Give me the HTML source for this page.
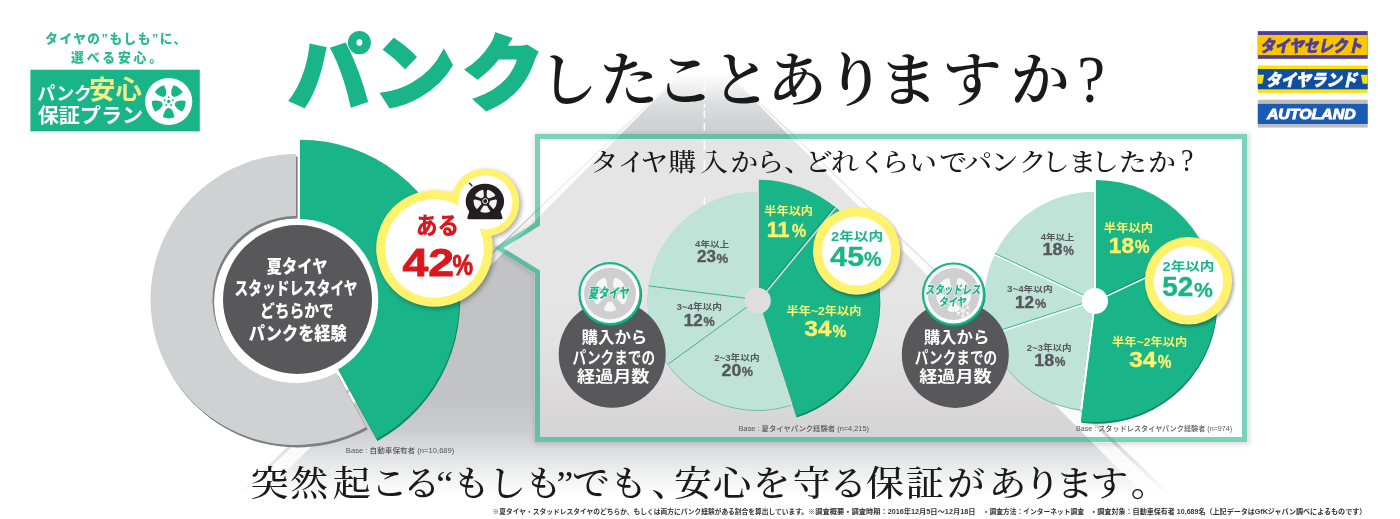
<!DOCTYPE html>
<html lang="ja"><head><meta charset="utf-8"><title>パンクしたことありますか?</title>
<style>
html,body{margin:0;padding:0;background:#fff;}
body{width:1400px;height:519px;overflow:hidden;position:relative;}
svg{display:block;position:absolute;left:0;top:0;}
text{font-family:"Liberation Sans","Noto Sans CJK JP",sans-serif;}
.sans{font-family:"Liberation Sans","Noto Sans CJK JP",sans-serif;}
.serif{font-family:"Liberation Serif","Noto Serif CJK JP","Noto Serif CJK SC",serif;}
</style></head><body>
<svg width="1400" height="519" viewBox="0 0 1400 519">
<defs>
<linearGradient id="road" x1="0" y1="0" x2="0" y2="519" gradientUnits="userSpaceOnUse"><stop offset="0.0000" stop-color="#fff" stop-opacity="0"/><stop offset="0.1407" stop-color="#fff" stop-opacity="0"/><stop offset="0.1734" stop-color="#fff" stop-opacity="0.3"/><stop offset="0.2023" stop-color="#fff" stop-opacity="0.58"/><stop offset="0.2312" stop-color="#fff" stop-opacity="0.72"/><stop offset="0.2582" stop-color="#fff" stop-opacity="0.78"/><stop offset="0.3854" stop-color="#fff" stop-opacity="0.95"/><stop offset="0.5010" stop-color="#fff" stop-opacity="1"/><stop offset="0.7669" stop-color="#fff" stop-opacity="1"/><stop offset="0.8285" stop-color="#fff" stop-opacity="0.85"/><stop offset="0.8593" stop-color="#fff" stop-opacity="0.62"/><stop offset="0.9056" stop-color="#fff" stop-opacity="0.3"/><stop offset="0.9557" stop-color="#fff" stop-opacity="0"/><stop offset="1.0000" stop-color="#fff" stop-opacity="0"/></linearGradient>
<linearGradient id="roadi" x1="0" y1="0" x2="0" y2="519" gradientUnits="userSpaceOnUse"><stop offset="0.0000" stop-color="#fff" stop-opacity="0.43"/><stop offset="0.5780" stop-color="#fff" stop-opacity="0.43"/><stop offset="0.6647" stop-color="#fff" stop-opacity="0.48"/><stop offset="0.7707" stop-color="#fff" stop-opacity="0.62"/><stop offset="0.8478" stop-color="#fff" stop-opacity="0.72"/><stop offset="1.0000" stop-color="#fff" stop-opacity="0.72"/></linearGradient>
<filter id="sh" x="-20%" y="-20%" width="140%" height="140%"><feGaussianBlur stdDeviation="2.5"/></filter>
<filter id="sh2" x="-20%" y="-20%" width="140%" height="140%"><feGaussianBlur stdDeviation="1.5"/></filter>
</defs>
<rect width="1400" height="519" fill="#fff"/>

<mask id="rm" maskUnits="userSpaceOnUse" x="0" y="0" width="1400" height="519"><rect x="0" y="0" width="1400" height="519" fill="url(#road)"/></mask>
<g id="road" mask="url(#rm)"><path d="M704.5,50 L1196.95,519 L212.05,519Z" fill="#c2c3c5"/><path d="M704.50,50 L239.25,519 L216.74,519 L704.50,50ZM704.50,50 L1167.87,519 L1191.32,519 L704.50,50Z" fill="#fff" fill-opacity="0.85"/><path d="M704.4,83.5V86M704.4,87.5V91.5M704.4,95.5V100M704.4,104V108M704.4,110.5V118M704.4,123V131M704.4,140V150M704.4,160V172M704.4,197V205" stroke="#fff" stroke-opacity="0.9" stroke-width="1.6" fill="none"/></g>
<path d="M537.5,136.5H1244.5V439.5H537.5V272L499,248L537.5,224Z" fill="none" stroke="#000" stroke-width="8" opacity="0.14" filter="url(#sh)" transform="translate(1,1)"/>
<path d="M537.5,136.5H1244.5V439.5H537.5V272L499,248L537.5,224Z" fill="none" stroke="#fff" stroke-width="5"/>
<g mask="url(#rm)"><clipPath id="bo"><path d="M534,133H1248V443H534V274L494,248L534,222Z" /></clipPath><g clip-path="url(#bo)"><path d="M704.5,50 L1196.95,519 L212.05,519Z" fill="#c2c3c5"/><path d="M704.50,50 L239.25,519 L216.74,519 L704.50,50ZM704.50,50 L1167.87,519 L1191.32,519 L704.50,50Z" fill="#fff" fill-opacity="0.85"/><path d="M704.4,83.5V86M704.4,87.5V91.5M704.4,95.5V100M704.4,104V108M704.4,110.5V118M704.4,123V131M704.4,140V150M704.4,160V172M704.4,197V205" stroke="#fff" stroke-opacity="0.9" stroke-width="1.6" fill="none"/></g></g>
<path d="M540,139H1242V437H540V270.6L503.7,248L540,225.4Z" fill="#fff"/>
<clipPath id="bc"><path d="M540,139H1242V437H540V270.6L503.7,248L540,225.4Z"/></clipPath><mask id="rmi" maskUnits="userSpaceOnUse" x="0" y="0" width="1400" height="519"><rect x="0" y="0" width="1400" height="519" fill="url(#roadi)"/></mask><g id="roadin" mask="url(#rmi)"><g clip-path="url(#bc)"><path d="M704.5,50 L1196.95,519 L212.05,519Z" fill="#c4c2c2"/><path d="M704.50,50 L239.25,519 L216.74,519 L704.50,50ZM704.50,50 L1167.87,519 L1191.32,519 L704.50,50Z" fill="#fff" fill-opacity="0.9"/><path d="M704.4,83.5V86M704.4,87.5V91.5M704.4,95.5V100M704.4,104V108M704.4,110.5V118M704.4,123V131M704.4,140V150M704.4,160V172M704.4,197V205" stroke="#fff" stroke-opacity="0.9" stroke-width="1.6" fill="none"/></g></g>
<path d="M537.5,136.5H1244.5V439.5H537.5V272L499,248L537.5,224Z" fill="none" stroke="#19b589" stroke-opacity="0.59" stroke-width="5" stroke-linejoin="miter"/>
<g id="donut">
<path d="M336.23,372.67L366.10,427.00A145.5,145.5 0 1 1 296.00,154.00L296.00,216.00A83.5,83.5 0 1 0 336.23,372.67Z" fill="#7d7e81" transform="translate(1.6,2.4)"/>
<path d="M336.23,372.67L366.10,427.00A145.5,145.5 0 1 1 296.00,154.00L296.00,216.00A83.5,83.5 0 1 0 336.23,372.67Z" fill="#d0d1d3"/>
<path d="M299.90,221.20L299.90,139.70A159.5,159.5 0 0 1 376.74,438.97L337.48,367.55A78,78 0 0 0 299.90,221.20Z" fill="#0b8a66" transform="translate(0.7,2)"/>
<path d="M299.90,221.20L299.90,139.70A159.5,159.5 0 0 1 376.74,438.97L337.48,367.55A78,78 0 0 0 299.90,221.20Z" fill="#19b589"/>
<circle cx="297.5" cy="299.5" r="80.8" fill="#fff"/>
<circle cx="297.5" cy="299.5" r="74.5" fill="#58585a"/>
</g>
<text transform="translate(266.86,273.25) scale(0.8509,1)" class="sans" font-weight="900" font-size="17.94" fill="#fff" >夏タイヤ</text>
<text transform="translate(234.54,295.34) scale(0.7749,1)" class="sans" font-weight="900" font-size="17.70" fill="#fff" >スタッドレスタイヤ</text>
<text transform="translate(259.90,317.20) scale(0.8632,1)" class="sans" font-weight="900" font-size="17.14" fill="#fff" >どちらかで</text>
<text transform="translate(248.84,339.50) scale(0.8775,1)" class="sans" font-weight="900" font-size="18.43" fill="#fff" >パンクを経験</text>
<g id="badge">
<g filter="url(#sh)" opacity="0.35" transform="translate(2,2)"><circle cx="434.5" cy="248.5" r="58.3"/><circle cx="485.4" cy="202.4" r="34"/></g>
<circle cx="434.5" cy="248.5" r="58.3" fill="#fff36e"/><circle cx="485.4" cy="202.4" r="34" fill="#fff36e"/>
<circle cx="434.5" cy="248.5" r="49.3" fill="#fff"/><circle cx="485.4" cy="202.4" r="27" fill="#fff"/>
<text transform="translate(415.98,234.01) scale(0.9196,1)" class="sans" font-weight="900" font-size="23.37" fill="#d7191f" >ある</text>
<text transform="translate(402.50,275.50) scale(1.1834,1)" class="sans" font-weight="700" font-size="39.28" fill="#d7191f" stroke="#d7191f" stroke-width="0.8">42</text>
<text transform="translate(452.62,275.28) scale(0.8014,1)" class="sans" font-weight="700" font-size="28.75" fill="#d7191f" stroke="#d7191f" stroke-width="0.9">%</text>
<g id="flat" transform="translate(484.9,201.3)"><ellipse cx="0" cy="0" rx="19.2" ry="17.6" fill="#231f20"/><path d="M-15.5,10 Q-17,14.5 -17.6,16.4 Q-17.8,18 -15.5,18 H15.5 Q17.8,18 17.6,16.4 Q17,14.5 15.5,10Z" fill="#231f20"/>
<path d="M-5.2,-11.3 Q0,-13.2 5.2,-11.3 Q5.6,-10.5 5,-9.5 L2,-5 Q0,-4 -2,-5 L-5,-9.5 Q-5.6,-10.5 -5.2,-11.3Z" fill="#f4f4f4" transform="translate(0.3,-0.2) rotate(36) scale(0.9,0.95)"/>
<path d="M-5.2,-11.3 Q0,-13.2 5.2,-11.3 Q5.6,-10.5 5,-9.5 L2,-5 Q0,-4 -2,-5 L-5,-9.5 Q-5.6,-10.5 -5.2,-11.3Z" fill="#f4f4f4" transform="translate(0.3,-0.2) rotate(108) scale(0.9,0.95)"/>
<path d="M-5.2,-11.3 Q0,-13.2 5.2,-11.3 Q5.6,-10.5 5,-9.5 L2,-5 Q0,-4 -2,-5 L-5,-9.5 Q-5.6,-10.5 -5.2,-11.3Z" fill="#f4f4f4" transform="translate(0.3,-0.2) rotate(180) scale(0.9,0.95)"/>
<path d="M-5.2,-11.3 Q0,-13.2 5.2,-11.3 Q5.6,-10.5 5,-9.5 L2,-5 Q0,-4 -2,-5 L-5,-9.5 Q-5.6,-10.5 -5.2,-11.3Z" fill="#f4f4f4" transform="translate(0.3,-0.2) rotate(252) scale(0.9,0.95)"/>
<path d="M-5.2,-11.3 Q0,-13.2 5.2,-11.3 Q5.6,-10.5 5,-9.5 L2,-5 Q0,-4 -2,-5 L-5,-9.5 Q-5.6,-10.5 -5.2,-11.3Z" fill="#f4f4f4" transform="translate(0.3,-0.2) rotate(324) scale(0.9,0.95)"/>
<circle cx="0.3" cy="-0.2" r="2.5" fill="none" stroke="#f4f4f4" stroke-width="1"/>
<path d="M-13,-15.5 l-2.4,-2.6" stroke="#231f20" stroke-width="1.4" stroke-linecap="round"/>
</g></g>
<g>
<path d="M757.00,300.80L790.78,404.75A109.3,109.3 0 1 1 757.00,191.50Z" fill="#6fbfa6" transform="translate(0,1)"/>
<path d="M757.00,300.80L790.78,404.75A109.3,109.3 0 1 1 757.00,191.50Z" fill="#bfe4d7"/>
<line x1="757" y1="300.8" x2="668.57" y2="365.04" stroke="#d4d9d7" stroke-width="2"/>
<line x1="757" y1="299.6" x2="668.57" y2="363.84" stroke="#19b589" stroke-width="0.9"/>
<line x1="757" y1="300.8" x2="648.56" y2="287.10" stroke="#d4d9d7" stroke-width="2"/>
<line x1="757" y1="299.6" x2="648.56" y2="285.90" stroke="#19b589" stroke-width="0.9"/>
<path d="M758.80,300.80L758.80,179.80A121,121 0 0 1 796.19,415.88Z" fill="#0b8a66" transform="translate(0.5,1.7)"/>
<path d="M758.80,300.80L758.80,179.80A121,121 0 0 1 796.19,415.88Z" fill="#19b589"/>
<line x1="758.8" y1="300.8" x2="835.93" y2="207.57" stroke="#0d8f6a" stroke-width="1.2" transform="translate(-0.9,-0.9)"/>
<line x1="758.8" y1="300.8" x2="835.93" y2="207.57" stroke="#d4d9d7" stroke-width="1.6"/>
<line x1="757.90" y1="191.8" x2="757.90" y2="300.8" stroke="#d4d9d7" stroke-width="1.7"/>
<line x1="757.90" y1="300.8" x2="791.58" y2="404.47" stroke="#d4d9d7" stroke-width="1.7"/>
<circle cx="757.8" cy="300.8" r="13" fill="#dedede"/>
</g>
<g>
<path d="M1093.70,301.10L1080.00,409.54A109.3,109.3 0 0 1 1093.70,191.80Z" fill="#6fbfa6" transform="translate(0,1)"/>
<path d="M1093.70,301.10L1080.00,409.54A109.3,109.3 0 0 1 1093.70,191.80Z" fill="#bfe4d7"/>
<line x1="1093.7" y1="301.1" x2="989.75" y2="334.88" stroke="#fff" stroke-width="2"/>
<line x1="1093.7" y1="299.90000000000003" x2="989.75" y2="333.68" stroke="#19b589" stroke-width="0.9"/>
<line x1="1093.7" y1="301.1" x2="994.80" y2="254.56" stroke="#fff" stroke-width="2"/>
<line x1="1093.7" y1="299.90000000000003" x2="994.80" y2="253.36" stroke="#19b589" stroke-width="0.9"/>
<path d="M1096.00,301.10L1096.00,180.10A121,121 0 1 1 1080.83,421.15Z" fill="#0b8a66" transform="translate(0.5,1.7)"/>
<path d="M1096.00,301.10L1096.00,180.10A121,121 0 1 1 1080.83,421.15Z" fill="#19b589"/>
<line x1="1096" y1="301.1" x2="1205.48" y2="249.58" stroke="#0d8f6a" stroke-width="1.2" transform="translate(-0.9,-0.9)"/>
<line x1="1096" y1="301.1" x2="1205.48" y2="249.58" stroke="#fff" stroke-width="1.6"/>
<line x1="1094.85" y1="192.10000000000002" x2="1094.85" y2="301.1" stroke="#fff" stroke-width="1.7"/>
<line x1="1094.85" y1="301.1" x2="1081.19" y2="409.24" stroke="#fff" stroke-width="1.7"/>
<circle cx="1095" cy="301.1" r="13" fill="#fff"/>
</g>
<text transform="translate(695.06,246.86) scale(1.1601,1)" class="sans" font-weight="700" font-size="8.25" fill="#58585a" >4年以上</text>
<text transform="translate(697.00,262.39) scale(1.0287,1)" class="sans" font-weight="700" font-size="16.62" fill="#58585a" stroke="#58585a" stroke-width="0.4">23</text>
<text transform="translate(716.57,262.51) scale(1.0606,1)" class="sans" font-weight="700" font-size="12.38" fill="#58585a" stroke="#58585a" stroke-width="0.3">%</text>
<text transform="translate(676.38,310.41) scale(1.1395,1)" class="sans" font-weight="700" font-size="8.55" fill="#58585a" >3~4年以内</text>
<text transform="translate(683.63,326.20) scale(0.9887,1)" class="sans" font-weight="700" font-size="17.35" fill="#58585a" stroke="#58585a" stroke-width="0.4">12</text>
<text transform="translate(703.58,326.11) scale(1.0220,1)" class="sans" font-weight="700" font-size="12.38" fill="#58585a" stroke="#58585a" stroke-width="0.3">%</text>
<text transform="translate(714.16,360.51) scale(1.1324,1)" class="sans" font-weight="700" font-size="8.55" fill="#58585a" >2~3年以内</text>
<text transform="translate(721.58,375.93) scale(1.0500,1)" class="sans" font-weight="700" font-size="16.82" fill="#58585a" stroke="#58585a" stroke-width="0.4">20</text>
<text transform="translate(741.78,376.01) scale(1.0460,1)" class="sans" font-weight="700" font-size="12.10" fill="#58585a" stroke="#58585a" stroke-width="0.3">%</text>
<text transform="translate(764.32,215.13) scale(1.0490,1)" class="sans" font-weight="700" font-size="11.61" fill="#fff36e" >半年以内</text>
<text transform="translate(766.65,236.60) scale(0.9434,1)" class="sans" font-weight="700" font-size="22.84" fill="#fff36e" stroke="#fff36e" stroke-width="0.4">11</text>
<text transform="translate(792.00,237.27) scale(0.8925,1)" class="sans" font-weight="700" font-size="17.79" fill="#fff36e" stroke="#fff36e" stroke-width="0.3">%</text>
<text transform="translate(786.62,314.93) scale(1.0495,1)" class="sans" font-weight="700" font-size="11.61" fill="#fff36e" >半年~2年以内</text>
<text transform="translate(804.56,335.93) scale(1.1061,1)" class="sans" font-weight="700" font-size="21.69" fill="#fff36e" stroke="#fff36e" stroke-width="0.4">34</text>
<text transform="translate(832.61,336.67) scale(0.9081,1)" class="sans" font-weight="700" font-size="17.22" fill="#fff36e" stroke="#fff36e" stroke-width="0.3">%</text>
<text transform="translate(1040.66,239.67) scale(1.1646,1)" class="sans" font-weight="700" font-size="8.15" fill="#58585a" >4年以上</text>
<text transform="translate(1042.58,255.13) scale(1.0418,1)" class="sans" font-weight="700" font-size="17.24" fill="#58585a" stroke="#58585a" stroke-width="0.4">18</text>
<text transform="translate(1063.30,255.21) scale(0.9641,1)" class="sans" font-weight="700" font-size="12.38" fill="#58585a" stroke="#58585a" stroke-width="0.3">%</text>
<text transform="translate(1007.08,292.35) scale(1.1987,1)" class="sans" font-weight="700" font-size="8.13" fill="#58585a" >3~4年以内</text>
<text transform="translate(1014.93,307.90) scale(1.0403,1)" class="sans" font-weight="700" font-size="16.49" fill="#58585a" stroke="#58585a" stroke-width="0.4">12</text>
<text transform="translate(1034.98,308.21) scale(1.0460,1)" class="sans" font-weight="700" font-size="12.10" fill="#58585a" stroke="#58585a" stroke-width="0.3">%</text>
<text transform="translate(1026.87,350.51) scale(1.1170,1)" class="sans" font-weight="700" font-size="8.55" fill="#58585a" >2~3年以内</text>
<text transform="translate(1034.18,365.93) scale(1.0681,1)" class="sans" font-weight="700" font-size="16.82" fill="#58585a" stroke="#58585a" stroke-width="0.4">18</text>
<text transform="translate(1054.80,366.01) scale(0.9868,1)" class="sans" font-weight="700" font-size="12.10" fill="#58585a" stroke="#58585a" stroke-width="0.3">%</text>
<text transform="translate(1103.81,231.62) scale(1.0550,1)" class="sans" font-weight="700" font-size="11.72" fill="#fff36e" >半年以内</text>
<text transform="translate(1108.78,252.58) scale(1.0154,1)" class="sans" font-weight="700" font-size="22.33" fill="#fff36e" stroke="#fff36e" stroke-width="0.4">18</text>
<text transform="translate(1134.79,253.17) scale(0.9328,1)" class="sans" font-weight="700" font-size="17.79" fill="#fff36e" stroke="#fff36e" stroke-width="0.3">%</text>
<text transform="translate(1112.12,346.32) scale(1.0429,1)" class="sans" font-weight="700" font-size="11.72" fill="#fff36e" >半年~2年以内</text>
<text transform="translate(1129.15,367.42) scale(1.0770,1)" class="sans" font-weight="700" font-size="22.54" fill="#fff36e" stroke="#fff36e" stroke-width="0.4">34</text>
<text transform="translate(1157.81,368.06) scale(0.8520,1)" class="sans" font-weight="700" font-size="18.08" fill="#fff36e" stroke="#fff36e" stroke-width="0.3">%</text>
<circle cx="858.1" cy="253" r="44.2" fill="#000" opacity="0.3" filter="url(#sh2)"/>
<circle cx="856.6" cy="251" r="43.7" fill="#fff36e"/><circle cx="856.6" cy="251" r="34.6" fill="#fff"/>
<text transform="translate(831.09,240.96) scale(1.1855,1)" class="sans" font-weight="700" font-size="12.35" fill="#19b589" >2年以内</text>
<text transform="translate(830.35,266.22) scale(1.0756,1)" class="sans" font-weight="700" font-size="28.10" fill="#19b589" stroke="#19b589" stroke-width="0.4">45</text>
<text transform="translate(864.11,266.35) scale(0.9816,1)" class="sans" font-weight="700" font-size="20.07" fill="#19b589" stroke="#19b589" stroke-width="0.3">%</text>
<circle cx="1190.0" cy="282.8" r="44.2" fill="#000" opacity="0.3" filter="url(#sh2)"/>
<circle cx="1188.5" cy="280.8" r="43.7" fill="#fff36e"/><circle cx="1188.5" cy="280.8" r="34.6" fill="#fff"/>
<text transform="translate(1162.59,270.88) scale(1.2013,1)" class="sans" font-weight="700" font-size="12.14" fill="#19b589" >2年以内</text>
<text transform="translate(1162.20,295.82) scale(1.0044,1)" class="sans" font-weight="700" font-size="27.70" fill="#19b589" stroke="#19b589" stroke-width="0.4">52</text>
<text transform="translate(1193.97,296.55) scale(1.0297,1)" class="sans" font-weight="700" font-size="20.64" fill="#19b589" stroke="#19b589" stroke-width="0.3">%</text>
<circle cx="612.2" cy="354.2" r="53.5" fill="#58585a"/>
<text transform="translate(581.43,343.12) scale(1.0288,1)" class="sans" font-weight="700" font-size="16.02" fill="#fff" >購入から</text>
<text transform="translate(572.59,363.68) scale(0.8248,1)" class="sans" font-weight="700" font-size="16.53" fill="#fff" >パンクまでの</text>
<text transform="translate(577.08,382.18) scale(1.1793,1)" class="sans" font-weight="700" font-size="15.34" fill="#fff" >経過月数</text>
<circle cx="610.5" cy="294.90000000000003" r="31.6" fill="#0d8f6a"/>
<circle cx="610" cy="293.6" r="31.6" fill="#19b589"/><circle cx="610" cy="293.6" r="29.4" fill="#fff"/><circle cx="610" cy="293.6" r="26" fill="#cfcfcf"/>
<path d="M-5.6,-16.2 Q0,-18.8 5.6,-16.2 Q6.2,-15 5.4,-13.5 L2.4,-8 Q0,-6.8 -2.4,-8 L-5.4,-13.5 Q-6.2,-15 -5.6,-16.2Z" fill="#fff" opacity="0.8" transform="translate(610,294.1) rotate(36)"/>
<path d="M-5.6,-16.2 Q0,-18.8 5.6,-16.2 Q6.2,-15 5.4,-13.5 L2.4,-8 Q0,-6.8 -2.4,-8 L-5.4,-13.5 Q-6.2,-15 -5.6,-16.2Z" fill="#fff" opacity="0.8" transform="translate(610,294.1) rotate(108)"/>
<path d="M-5.6,-16.2 Q0,-18.8 5.6,-16.2 Q6.2,-15 5.4,-13.5 L2.4,-8 Q0,-6.8 -2.4,-8 L-5.4,-13.5 Q-6.2,-15 -5.6,-16.2Z" fill="#fff" opacity="0.8" transform="translate(610,294.1) rotate(180)"/>
<path d="M-5.6,-16.2 Q0,-18.8 5.6,-16.2 Q6.2,-15 5.4,-13.5 L2.4,-8 Q0,-6.8 -2.4,-8 L-5.4,-13.5 Q-6.2,-15 -5.6,-16.2Z" fill="#fff" opacity="0.8" transform="translate(610,294.1) rotate(252)"/>
<path d="M-5.6,-16.2 Q0,-18.8 5.6,-16.2 Q6.2,-15 5.4,-13.5 L2.4,-8 Q0,-6.8 -2.4,-8 L-5.4,-13.5 Q-6.2,-15 -5.6,-16.2Z" fill="#fff" opacity="0.8" transform="translate(610,294.1) rotate(324)"/>
<text transform="translate(587.95,298.46) skewX(-9) scale(0.7492,1)" class="sans" font-weight="900" font-size="13.72" fill="#19b589" stroke="#fff" stroke-width="1.3" paint-order="stroke" stroke-linejoin="round">夏タイヤ</text>
<circle cx="955.3" cy="354.4" r="53.5" fill="#58585a"/>
<text transform="translate(923.63,343.12) scale(1.0288,1)" class="sans" font-weight="700" font-size="16.02" fill="#fff" >購入から</text>
<text transform="translate(914.79,363.68) scale(0.8248,1)" class="sans" font-weight="700" font-size="16.53" fill="#fff" >パンクまでの</text>
<text transform="translate(919.28,382.18) scale(1.1793,1)" class="sans" font-weight="700" font-size="15.34" fill="#fff" >経過月数</text>
<circle cx="954.0" cy="295.3" r="31.6" fill="#0d8f6a"/>
<circle cx="953.5" cy="294" r="31.6" fill="#19b589"/><circle cx="953.5" cy="294" r="29.4" fill="#fff"/><circle cx="953.5" cy="294" r="26" fill="#cfcfcf"/>
<path d="M-5.6,-16.2 Q0,-18.8 5.6,-16.2 Q6.2,-15 5.4,-13.5 L2.4,-8 Q0,-6.8 -2.4,-8 L-5.4,-13.5 Q-6.2,-15 -5.6,-16.2Z" fill="#fff" opacity="0.8" transform="translate(953.5,294.5) rotate(36)"/>
<path d="M-5.6,-16.2 Q0,-18.8 5.6,-16.2 Q6.2,-15 5.4,-13.5 L2.4,-8 Q0,-6.8 -2.4,-8 L-5.4,-13.5 Q-6.2,-15 -5.6,-16.2Z" fill="#fff" opacity="0.8" transform="translate(953.5,294.5) rotate(108)"/>
<path d="M-5.6,-16.2 Q0,-18.8 5.6,-16.2 Q6.2,-15 5.4,-13.5 L2.4,-8 Q0,-6.8 -2.4,-8 L-5.4,-13.5 Q-6.2,-15 -5.6,-16.2Z" fill="#fff" opacity="0.8" transform="translate(953.5,294.5) rotate(180)"/>
<path d="M-5.6,-16.2 Q0,-18.8 5.6,-16.2 Q6.2,-15 5.4,-13.5 L2.4,-8 Q0,-6.8 -2.4,-8 L-5.4,-13.5 Q-6.2,-15 -5.6,-16.2Z" fill="#fff" opacity="0.8" transform="translate(953.5,294.5) rotate(252)"/>
<path d="M-5.6,-16.2 Q0,-18.8 5.6,-16.2 Q6.2,-15 5.4,-13.5 L2.4,-8 Q0,-6.8 -2.4,-8 L-5.4,-13.5 Q-6.2,-15 -5.6,-16.2Z" fill="#fff" opacity="0.8" transform="translate(953.5,294.5) rotate(324)"/>
<path d="M963.0,310.5L963.0,303.3M963.0,305.9L961.2,304.4M963.0,305.9L964.8,304.4M963.0,310.5L969.2,306.9M967.0,308.2L967.4,305.8M967.0,308.2L969.2,309.0M963.0,310.5L969.2,314.1M967.0,312.8L969.2,312.0M967.0,312.8L967.4,315.2M963.0,310.5L963.0,317.7M963.0,315.1L964.8,316.6M963.0,315.1L961.2,316.6M963.0,310.5L956.8,314.1M959.0,312.8L958.6,315.2M959.0,312.8L956.8,312.0M963.0,310.5L956.8,306.9M959.0,308.2L956.8,309.0M959.0,308.2L958.6,305.8" stroke="#fff" stroke-width="1" stroke-linecap="round" fill="none" opacity="0.9"/>
<text transform="translate(925.22,293.75) skewX(-9) scale(0.7706,1)" class="sans" font-weight="900" font-size="11.94" fill="#19b589" stroke="#fff" stroke-width="1.3" paint-order="stroke" stroke-linejoin="round">スタッドレス</text>
<text transform="translate(938.70,306.41) skewX(-9) scale(0.7983,1)" class="sans" font-weight="900" font-size="11.54" fill="#19b589" stroke="#fff" stroke-width="1.3" paint-order="stroke" stroke-linejoin="round">タイヤ</text>
<text transform="translate(345.87,452.71) scale(1.0576,1)" class="sans" font-weight="500" font-size="7.20" fill="#555" >Base : 自動車保有者 (n=10,689)</text>
<text transform="translate(738.69,430.70) scale(1.0217,1)" class="sans" font-weight="500" font-size="7.22" fill="#555" >Base : 夏タイヤパンク経験者 (n=4,215)</text>
<text transform="translate(1076.01,430.70) scale(0.9908,1)" class="sans" font-weight="500" font-size="7.22" fill="#555" >Base : スタッドレスタイヤパンク経験者 (n=974)</text>
<text x="288.5 373.5 462" y="103" class="sans" font-weight="900" font-size="82" fill="#19b589" stroke="#19b589" stroke-width="2.6" stroke-linejoin="miter">パンク</text>
<text x="538.6 599.2 655.3 711.3 767.5 825.4 878.7 942.3 1010.3" y="100.5" class="serif" font-weight="600" font-size="59.5" fill="#1a1a1a" >したことありますか</text>
<text transform="translate(1077.20,102.19) scale(0.9339,1)" class="serif" font-weight="400" font-size="67.31" fill="#1a1a1a" >?</text>
<text x="590.6 617.8 640.2 668.3 699.9 730.2 756.2 784.0 804.7 831.1 858.6 881.2 908.9 939.3 964.3 990.4 1018.8 1041.8 1068.4 1090.9 1118.8 1148.0" y="0" transform="translate(0,170.5) scale(1,0.9)" class="serif" font-weight="500" font-size="28" fill="#1a1a1a" >タイヤ購入から、どれくらいでパンクしましたか</text>
<text transform="translate(1181.03,170.84) scale(0.9120,1)" class="serif" font-weight="400" font-size="30.70" fill="#1a1a1a" >?</text>
<text x="250.7 290.2 332.8 370.3 402.7 436.3 452.3 488.2 524.2 556.6 572.1 609.4 651.6 673.9 713.2 752.6 792.6 829.2 866.1 906.1 947.1 988.6 1022.9 1055.5 1090.3 1130.8" y="0" transform="translate(0,495.7) scale(1,0.93)" class="serif" font-weight="500" font-size="38" fill="#1a1a1a" >突然起こる“もしも”でも、安心を守る保証があります。</text>
<text transform="translate(492.56,514.43) scale(0.9868,1)" class="sans" font-weight="700" font-size="6.84" fill="#333" >※夏タイヤ・スタッドレスタイヤのどちらか、もしくは両方にパンク経験がある割合を算出しています。</text>
<text transform="translate(807.98,514.44) scale(1.0441,1)" class="sans" font-weight="700" font-size="6.95" fill="#333" >※調査概要・調査時期：2016年12月5日～12月18日</text>
<text transform="translate(982.78,514.42) scale(0.9746,1)" class="sans" font-weight="700" font-size="6.93" fill="#333" >・調査方法：インターネット調査</text>
<text transform="translate(1090.26,514.18) scale(0.9803,1)" class="sans" font-weight="700" font-size="7.22" fill="#333" >・調査対象：自動車保有者 10,689名（上記データはGfKジャパン調べによるものです）</text>
<text x="45.2" y="42.5" font-weight="900" font-size="12.6" fill="#2cb98f" textLength="141" lengthAdjust="spacing">タイヤの”もしも”に、</text>
<text x="71" y="61.8" font-weight="900" font-size="12.8" fill="#2cb98f" textLength="91" lengthAdjust="spacing">選べる安心。</text>
<rect x="30.4" y="69.7" width="169.4" height="61.7" fill="#19b589"/>
<text transform="translate(37.33,99.67) scale(0.9806,1)" class="sans" font-weight="700" font-size="18.29" fill="#fff" >パンク</text>
<text transform="translate(89.05,99.03) scale(0.9996,1)" class="sans" font-weight="700" font-size="26.38" fill="#eef08c" >安心</text>
<text transform="translate(37.63,123.37) scale(1.0399,1)" class="sans" font-weight="700" font-size="20.32" fill="#fff" >保証プラン</text>
<circle cx="168.7" cy="101.5" r="23.6" fill="#fff"/>
<path d="M-6.5,-18 Q0,-20.5 6.5,-18 Q6,-12 2.2,-8 Q0,-7 -2.2,-8 Q-6,-12 -6.5,-18Z" fill="#19b589" transform="translate(168.7,101.5) rotate(36) scale(0.88)"/>
<path d="M-6.5,-18 Q0,-20.5 6.5,-18 Q6,-12 2.2,-8 Q0,-7 -2.2,-8 Q-6,-12 -6.5,-18Z" fill="#19b589" transform="translate(168.7,101.5) rotate(108) scale(0.88)"/>
<path d="M-6.5,-18 Q0,-20.5 6.5,-18 Q6,-12 2.2,-8 Q0,-7 -2.2,-8 Q-6,-12 -6.5,-18Z" fill="#19b589" transform="translate(168.7,101.5) rotate(180) scale(0.88)"/>
<path d="M-6.5,-18 Q0,-20.5 6.5,-18 Q6,-12 2.2,-8 Q0,-7 -2.2,-8 Q-6,-12 -6.5,-18Z" fill="#19b589" transform="translate(168.7,101.5) rotate(252) scale(0.88)"/>
<path d="M-6.5,-18 Q0,-20.5 6.5,-18 Q6,-12 2.2,-8 Q0,-7 -2.2,-8 Q-6,-12 -6.5,-18Z" fill="#19b589" transform="translate(168.7,101.5) rotate(324) scale(0.88)"/>
<circle cx="168.7" cy="101.5" r="1.7" fill="#19b589"/>
<circle cx="168.7" cy="97.2" r="0.9" fill="#19b589"/>
<circle cx="172.8" cy="100.2" r="0.9" fill="#19b589"/>
<circle cx="171.2" cy="105.0" r="0.9" fill="#19b589"/>
<circle cx="166.2" cy="105.0" r="0.9" fill="#19b589"/>
<circle cx="164.6" cy="100.2" r="0.9" fill="#19b589"/>
<g id="logos">
<rect x="1257.8" y="31.1" width="109.9" height="27.7" fill="#4e3e99"/><rect x="1257.8" y="35" width="109.9" height="20.1" fill="#fdc500"/>
<text transform="translate(1260.00,51.50) skewX(-12) scale(0.8787,1)" class="sans" font-weight="900" font-size="16.71" fill="#4e3e99" stroke="#4e3e99" stroke-width="0.6">タイヤセレクト</text>
<rect x="1257.8" y="65.5" width="109.9" height="27.3" fill="#ffe100"/><rect x="1257.8" y="69" width="109.9" height="20.3" fill="#0e4fa3"/>
<path d="M1257.8,74.8h6.3l-1.8,9h-4.5z M1367.7,74.8h-6.8l1.8,9h5z" fill="#ffe100"/>
<text transform="translate(1265.68,85.70) skewX(-12) scale(0.9161,1)" class="sans" font-weight="900" font-size="16.71" fill="#fff" stroke="#fff" stroke-width="0.6">タイヤランド</text>
<rect x="1257.8" y="99.7" width="109.9" height="27.9" fill="#bdbdbd"/><rect x="1257.8" y="103.9" width="109.9" height="20.1" fill="#1a5bb5"/>
<text transform="translate(1266.92,118.76) scale(1.1225,1)" class="sans" font-weight="700" font-size="14.13" fill="#fff" font-style="italic" stroke="#fff" stroke-width="0.9">AUTOLAND</text>
</g>
</svg></body></html>
